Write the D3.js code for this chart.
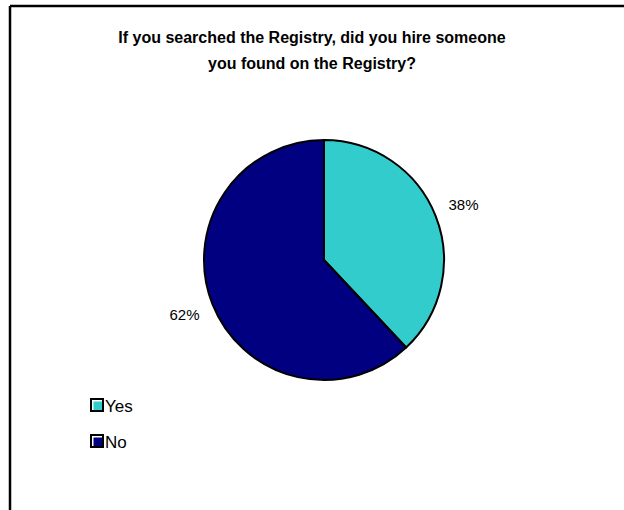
<!DOCTYPE html>
<html>
<head>
<meta charset="utf-8">
<script src="https://cdn.jsdelivr.net/npm/d3@7"></script>
<style>
  html, body { margin: 0; padding: 0; background: #fff; overflow: hidden; }
  svg { display: block; overflow: hidden; }
</style>
</head>
<body>
<svg id="chart" width="624" height="510"></svg>
<script>
// Survey answers and their shares
const categories = ["Yes", "No"];
const values = [38, 62];
const colors = ["#33CCCC", "#000080"];
const titleLines = [
  "If you searched the Registry, did you hire someone",
  "you found on the Registry?"
];

const svg = d3.select("#chart");
const font = "Arial, 'Liberation Sans', Helvetica, sans-serif";

svg.append("rect")
  .attr("width", 624).attr("height", 510)
  .attr("fill", "#fff");

// Chart area frame: top and left edges (the rest lies outside the view)
svg.append("line")
  .attr("x1", 10).attr("y1", 6).attr("x2", 624).attr("y2", 6)
  .attr("stroke", "#000").attr("stroke-width", 2.5);
svg.append("line")
  .attr("x1", 10).attr("y1", 6).attr("x2", 10).attr("y2", 510)
  .attr("stroke", "#000").attr("stroke-width", 2.5);

// Title
svg.append("text")
  .attr("text-anchor", "middle")
  .attr("font-family", font)
  .attr("font-weight", "bold")
  .attr("font-size", 16)
  .selectAll("tspan")
  .data(titleLines)
  .join("tspan")
  .attr("x", 312)
  .attr("y", (d, i) => 43 + i * 26)
  .text(d => d);

// Pie
const cx = 324, cy = 260, r = 120;
const pie = d3.pie().sort(null).value(d => d.value);
const arcs = pie(categories.map((c, i) => ({ category: c, value: values[i] })));
const arc = d3.arc().innerRadius(0).outerRadius(r);
const labelArc = d3.arc().innerRadius(r + 30).outerRadius(r + 30);

const g = svg.append("g").attr("transform", `translate(${cx},${cy})`);
g.selectAll("path")
  .data(arcs)
  .join("path")
  .attr("d", arc)
  .attr("fill", (d, i) => colors[i])
  .attr("stroke", "#000")
  .attr("stroke-width", 2)
  .attr("stroke-linejoin", "round");

g.selectAll("text")
  .data(arcs)
  .join("text")
  .attr("transform", d => `translate(${labelArc.centroid(d)})`)
  .attr("text-anchor", "middle")
  .attr("dy", "0.35em")
  .attr("font-family", font)
  .attr("font-size", 15)
  .attr("fill", "#000")
  .text(d => d.data.value + "%");

// Legend
const legend = svg.append("g").attr("transform", "translate(90,398)");
const item = legend.selectAll("g")
  .data(categories)
  .join("g")
  .attr("transform", (d, i) => `translate(0,${i * 36})`);
item.append("rect")
  .attr("x", 1).attr("y", 1)
  .attr("width", 12).attr("height", 12)
  .attr("fill", "#fff")
  .attr("stroke", "#000")
  .attr("stroke-width", 2);
item.append("rect")
  .attr("x", 3.5).attr("y", 3.5)
  .attr("width", 8.5).attr("height", 8.5)
  .attr("fill", (d, i) => colors[i]);
item.append("text")
  .attr("x", 15)
  .attr("y", 14)
  .attr("font-family", font)
  .attr("font-size", 17)
  .attr("fill", "#000")
  .text(d => d);
</script>
</body>
</html>
